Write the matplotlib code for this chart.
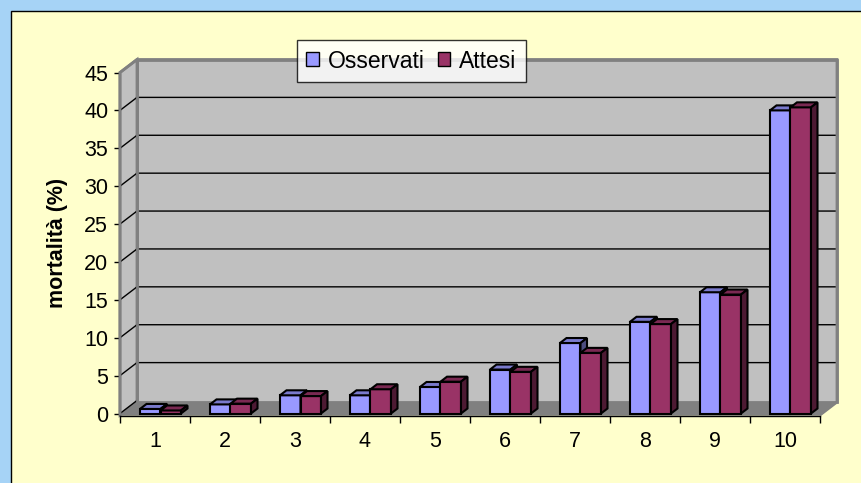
import matplotlib
matplotlib.use("Agg")
import matplotlib.pyplot as plt
from matplotlib.patches import Polygon, Rectangle, Patch

plt.rcParams['font.family'] = ['Liberation Sans', 'DejaVu Sans']

# ---- data -------------------------------------------------------------
categories = [1, 2, 3, 4, 5, 6, 7, 8, 9, 10]
osservati = [0.6, 1.2, 2.4, 2.4, 3.5, 5.8, 9.3, 12.1, 16.0, 40.0]
attesi = [0.4, 1.3, 2.3, 3.2, 4.2, 5.5, 8.0, 11.8, 15.7, 40.4]
series_names = ["Osservati", "Attesi"]
y_ticks = [0, 5, 10, 15, 20, 25, 30, 35, 40, 45]

# ---- styling ----------------------------------------------------------
W, H, DPI = 861, 483, 100
PX_X = 70.0            # pixels per category
PX_Y = 341.0 / 45.0    # pixels per value unit

front_colors = ["#9999FF", "#993366"]
top_colors = ["#7A7ACC", "#7A2952"]
side_colors = ["#4D4D80", "#4D1A33"]

fig = plt.figure(figsize=(W / DPI, H / DPI), dpi=DPI, facecolor="#A6D3F6")

# chart area panel
fig.patches.append(Rectangle((11 / W, -0.1), 2.0, 1 - 11 / H + 0.1,
                             transform=fig.transFigure, facecolor="#FFFFCC",
                             edgecolor="black", lw=1.0, zorder=-5))

# plot axes, laid out so that one category = 70 px and y=0 sits at the bar base
ax_left, ax_right = 120, 838
ax_top, ax_bottom = 59, 416
y0_px = 413.5
ax = fig.add_axes([ax_left / W, (H - ax_bottom) / H,
                   (ax_right - ax_left) / W, (ax_bottom - ax_top) / H])
ax.set_zorder(1)
ax.set_facecolor("none")
ax.set_xlim(0.5, 0.5 + (ax_right - ax_left) / PX_X)
ax.set_ylim(-(ax_bottom - y0_px) / PX_Y, (y0_px - ax_top) / PX_Y)
ax.set_autoscale_on(False)

# depth offsets converted to data units
dx = 17 / PX_X
dy = 13 / PX_Y
floor_y = -(415 - y0_px) / PX_Y
xmin, xmax = 0.5, 10.5
ymax = y_ticks[-1]

wall_edge = "#808080"
wall_fill = "#C0C0C0"

# floor
ax.add_patch(Polygon([(xmin, floor_y), (xmax, floor_y), (xmax + dx, floor_y + dy),
                      (xmin + dx, floor_y + dy)], closed=True,
                     facecolor="#808080", edgecolor="#808080", lw=1, zorder=1,
                     clip_on=False))
# left side wall
ax.add_patch(Polygon([(xmin, floor_y), (xmin, ymax), (xmin + dx, ymax + dy),
                      (xmin + dx, floor_y + dy)], closed=True,
                     facecolor=wall_fill, edgecolor=wall_edge, lw=2, zorder=1,
                     clip_on=False))
# back wall
ax.add_patch(Polygon([(xmin + dx, floor_y + dy), (xmin + dx, ymax + dy),
                      (xmax + dx, ymax + dy), (xmax + dx, floor_y + dy)], closed=True,
                     facecolor=wall_fill, edgecolor=wall_edge, lw=2, zorder=1,
                     clip_on=False))
# gridlines on side and back walls
for v in y_ticks[1:-1]:
    ax.plot([xmin, xmin + dx, xmax + dx], [v, v + dy, v + dy], color="black",
            lw=1, zorder=2, clip_on=False, solid_capstyle="butt")
ax.plot([xmin, xmin + dx], [0, dy], color="black", lw=1, zorder=2, clip_on=False)
# redraw wall outline over the gridlines
ax.add_patch(Polygon([(xmin, floor_y), (xmin, ymax), (xmin + dx, ymax + dy),
                      (xmax + dx, ymax + dy), (xmax + dx, floor_y + dy),
                      (xmax, floor_y)], closed=False, fill=False,
                     edgecolor=wall_edge, lw=2, zorder=2, clip_on=False))
ax.plot([xmin + dx, xmin + dx], [floor_y + dy, ymax + dy], color=wall_edge,
        lw=2, zorder=2, clip_on=False)

# ---- 3D columns -------------------------------------------------------
bar_w = 20.5 / PX_X
bar_shift = 5.5 / PX_X
bdx = 6.5 / PX_X
bdy = 5.0 / PX_Y
edge_lw = 1.5

z = 3
for i, cat in enumerate(categories):
    for s, vals in enumerate([osservati, attesi]):
        v = vals[i]
        x0 = cat + bar_shift - bar_w + s * bar_w
        x1 = x0 + bar_w
        ax.bar(x0, v, width=bar_w, bottom=0, align="edge",
               color=front_colors[s], edgecolor="black", lw=edge_lw, zorder=z)
        ax.add_patch(Polygon([(x0, v), (x1, v), (x1 + bdx, v + bdy), (x0 + bdx, v + bdy)],
                             closed=True, facecolor=top_colors[s], edgecolor="black",
                             lw=edge_lw, zorder=z, joinstyle="miter"))
        ax.add_patch(Polygon([(x1, 0), (x1, v), (x1 + bdx, v + bdy), (x1 + bdx, bdy)],
                             closed=True, facecolor=side_colors[s], edgecolor="black",
                             lw=edge_lw, zorder=z, joinstyle="miter"))
        z += 1

# ---- axes, ticks, labels ----------------------------------------------
for sp in ["top", "right", "left"]:
    ax.spines[sp].set_visible(False)
ax.spines["bottom"].set_bounds(xmin, xmax)
ax.spines["bottom"].set_color("black")
ax.spines["bottom"].set_linewidth(1.0)
ax.spines["bottom"].set_zorder(50)

fs = 15.5
ax.set_yticks(y_ticks)
ax.set_yticklabels([str(t) for t in y_ticks], fontsize=fs)
ax.tick_params(axis="y", direction="out", length=4.5, width=1, color="black", pad=4)

ax.set_xticks(categories)
ax.set_xticklabels([str(c) for c in categories], fontsize=fs)
ax.set_xticks([c - 0.5 for c in categories] + [categories[-1] + 0.5], minor=True)
ax.tick_params(axis="x", which="major", length=0, pad=11)
ax.tick_params(axis="x", which="minor", direction="out", length=5, width=1, color="black")

fig.text(57 / W, 1 - 243 / H, "mortalità (%)", rotation=90, fontsize=15.5,
         fontweight="bold", ha="center", va="center")

# legend
handles = [Patch(facecolor=front_colors[k], edgecolor="black", lw=1, label=series_names[k])
           for k in range(2)]
leg = fig.legend(handles=handles, loc="center", bbox_to_anchor=(411.5 / W, 1 - 61 / H),
                 ncol=2, fontsize=16.5, frameon=True, fancybox=False, shadow=False,
                 handlelength=0.55, handleheight=0.55, handletextpad=0.4,
                 columnspacing=0.55, borderpad=0.4, borderaxespad=0)
leg.get_frame().set_edgecolor("black")
leg.get_frame().set_linewidth(1.0)
leg.get_frame().set_facecolor("white")
leg.set_zorder(100)

fig.savefig("out.png", dpi=DPI, facecolor=fig.get_facecolor())
